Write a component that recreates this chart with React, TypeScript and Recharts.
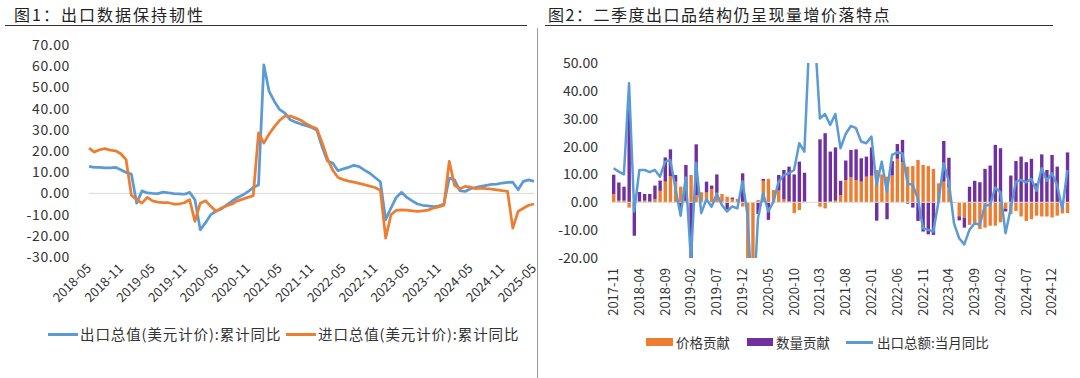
import React from "react";
import { LineChart, Line, XAxis, YAxis, ReferenceLine, ComposedChart, Bar } from "recharts";

const FONT = '"Noto Sans CJK SC", "Noto Sans", sans-serif';

// month labels like 2018-05
function monthLabels(year: number, month: number, count: number) {
  const out: string[] = [];
  for (let k = 0; k < count; k++) {
    const m = month - 1 + k;
    const y = year + Math.floor(m / 12);
    out.push(`${y}-${String((m % 12) + 1).padStart(2, "0")}`);
  }
  return out;
}

// ---- 图1 ----
const leftMonths = monthLabels(2018, 5, 85);
const exportCum = [
  12.7, 12.3, 12.3, 12.0, 12.0, 12.3, 11.2, 9.9, 9.1, -4.6, 1.2, 0.2, 0.0, -0.1, 0.6, 0.3, -0.1, -0.2, -0.4, 0.5,
  -3.0, -17.2, -13.8, -10.0, -8.3, -7.3, -5.4, -3.6, -2.0, -0.8, 0.8, 2.8, 4.0, 60.6, 48.1, 43.4, 39.5, 37.9, 34.7, 33.6,
  32.7, 31.9, 31.1, 29.9, 22.0, 15.3, 14.3, 10.7, 11.6, 12.3, 13.2, 12.6, 11.0, 9.5, 7.5, 5.5, -12.4, -6.9, -1.9, 0.5,
  -1.9, -3.5, -5.0, -5.6, -5.9, -6.2, -6.0, -5.0, 7.2, 6.4, 1.3, 0.9, 2.2, 2.8, 3.3, 3.8, 4.3, 4.4, 4.9, 5.2,
  5.3, 1.7, 5.7, 6.4, 5.7,
];
const importCum = [
  21.4, 19.5, 20.6, 21.1, 20.4, 20.1, 18.7, 15.9, -0.9, -3.0, -4.6, -1.9, -3.5, -4.1, -4.3, -4.4, -5.0, -5.0, -4.4, -3.0,
  -13.2, -4.6, -3.5, -6.1, -8.5, -6.9, -5.8, -5.0, -3.5, -2.7, -1.9, -1.1, 28.5, 23.7, 28.0, 31.5, 34.5, 36.5, 36.5, 35.5,
  34.5, 32.8, 31.6, 30.5, 24.0, 16.5, 11.0, 7.5, 6.5, 5.8, 5.3, 4.7, 4.1, 3.4, 2.8, 1.5, -21.1, -10.1, -8.0, -7.8,
  -7.9, -8.2, -8.5, -8.2, -7.9, -6.9, -6.4, -5.6, 15.1, 3.8, 2.2, 3.3, 3.0, 2.2, 2.5, 2.2, 2.0, 1.7, 1.3, 1.0,
  -16.4, -8.5, -7.0, -5.6, -5.0,
];
const leftTicks = [-30, -20, -10, 0, 10, 20, 30, 40, 50, 60, 70];

// ---- 图2 ----
const rightMonths = monthLabels(2017, 11, 89);
const priceContrib = [
  2.9, 0.6, 0.6, -1.9, 0, 0.3, 0.6, 0.2, 1.1, 4.1, 7.4, 9.4, 7.4, 5.6, 0.5, 9.8, 2.6, 3.6, 3.5, 4.8,
  3.4, 3.0, 2.0, 1.2, 1.2, -1.5, -25, -25, 0.8, 7.7, 8.4, 4.4, 4.2, 1.0, 0.3, -3.9, -2.8, 0.3, null, null,
  -1.6, -2.2, 0.3, 0.6, 2.6, 8.0, 9.0, 8.0, 7.4, 9.2, 9.5, 11.6, 10.0, 9.2, 9.6, 15.6, 14.4, 12.8, 13.0, 15.2,
  13.4, 13.0, 12.0, 6.8, 7.4, 5.3, -0.3, -5.0, -5.5, -8.1, -8.1, -9.6, -9.1, -8.4, -8.4, -7.2, -2.4, -4.3, -3.1, -5.1,
  -6.7, -6.1, -4.8, -5.1, -5.1, -5.5, -4.8, -4.0, -3.9,
];
const qtyContrib = [
  7.0, 6.5, 5.0, 35, -12, 3.4, 2.4, 2.8, 4.9, 3.7, 8.7, 9.6, 2.4, -2.0, 12.9, -28, 18.2, 0, 3.9, 1.2,
  6.6, 0, -2.5, 0.5, 0, 10.4, 0, 0, -4.2, 0.7, -6.3, 0, 5.6, 10.6, 12.5, 10.0, 14.6, 10.3, null, null,
  22.6, 24.8, 17.9, 19.1, 5.1, 7.0, 9.8, 11.0, 8.4, 7.2, 10.2, -6.6, 0, -6.1, 5.2, 5.3, 8.0, -0.5, -1.9, -6.7,
  -10.5, -11.5, -11.7, 0, 14.6, 10.7, 0, -1.5, -3.6, 5.6, 7.7, 7.2, 12.0, 13.2, 20.6, 19.4, -0.9, 9.6, 14.8, 16.4,
  14.4, 15.6, 6.8, 17.2, 11.6, 17.0, 12.8, 0, 17.9,
];
const exportYoY = [
  12.2, 11.0, 10.0, 42.7, -3.3, 11.6, 11.6, 10.8, 11.6, 9.2, 14.6, 15.2, 5.0, -4.8, 8.9, -20.7, 14.2, -3.9, 1.1, -1.6,
  3.0, -1.0, -3.3, -1.5, -2.2, 7.6, -5.0, -40.6, -5.7, 3.2, -3.3, 0.2, 7.4, 9.8, 10.4, 11.6, 21.2, 18.2, 60.6, 60.6,
  30.1, 31.7, 27.8, 31.7, 19.4, 24.5, 27.4, 26.6, 21.8, 21.2, 23.6, 6.2, 14.6, 3.8, 17.0, 17.9, 17.6, 6.8, 6.2, 1.4,
  -9.3, -9.9, -10.5, 0.2, 14.0, 7.4, -7.5, -12.9, -15.1, -9.9, -7.5, -8.1, -1.2, -1.0, 5.3, 3.6, -11.1, -2.2, 7.4, 8.0,
  7.2, 8.4, 4.1, 12.2, 7.7, 10.4, 6.2, -2.4, 11.6,
];
const rightTicks = [-20, -10, 0, 10, 20, 30, 40, 50];

const leftData = leftMonths.map((m, i) => ({ m, exp: exportCum[i], imp: importCum[i] }));
const rightData = rightMonths.map((m, i) => ({ m, price: priceContrib[i], qty: qtyContrib[i], yoy: exportYoY[i] }));

const BLUE = "#5B9BD5";
const ORANGE = "#ED7D31";
const PURPLE = "#7030A0";
const TXT = "#333";

const LeftTick = (props: any) => {
  const { x, y, payload } = props;
  return (
    <text x={x} y={y} transform={`rotate(-45 ${x} ${y})`} textAnchor="end" dy="0.35em" fontSize={13} fill={TXT} fontFamily={FONT}>
      {payload.value}
    </text>
  );
};

const RightTick = (props: any) => {
  const { x, y, payload } = props;
  return (
    <text x={x} y={y} transform={`rotate(-90 ${x} ${y})`} textAnchor="end" dy="0.35em" fontSize={13} fill={TXT} fontFamily={FONT}>
      {payload.value}
    </text>
  );
};

const abs = (s: React.CSSProperties): React.CSSProperties => ({ position: "absolute", ...s });

export default function App() {
  return (
    <div style={abs({ left: 0, top: 0, width: 1080, height: 378, background: "#fff", overflow: "hidden", fontFamily: FONT, color: TXT })}>
      {/* titles */}
      <div style={abs({ left: 14, top: 3, fontSize: 16, lineHeight: "22px", letterSpacing: 2, color: "#222" })}>图1：出口数据保持韧性</div>
      <div style={abs({ left: 548, top: 3, fontSize: 16, lineHeight: "22px", letterSpacing: 1.5, color: "#222" })}>
        图2：二季度出口品结构仍呈现量增价落特点
      </div>
      <div style={abs({ left: 5, top: 25, width: 522, borderTop: "1.5px solid #333" })} />
      <div style={abs({ left: 545, top: 25, width: 508, borderTop: "1.5px solid #333" })} />
      <div style={abs({ left: 537, top: 28, height: 350, borderLeft: "1px solid #999" })} />

      {/* 图1 */}
      <div style={abs({ left: 0, top: 0 })}>
        <LineChart width={540} height={378} data={leftData} margin={{ top: 45, right: 6, bottom: 61, left: 0 }}>
          <XAxis dataKey="m" scale="point" padding={{ left: 0, right: 0 }} interval={5} axisLine={false} tickLine={false} tickSize={0} tickMargin={9} height={60} tick={<LeftTick />} />
          <YAxis
            domain={[-30, 70]}
            ticks={leftTicks}
            width={89}
            axisLine={false}
            tickLine={false}
            tickSize={0}
            tickMargin={19}
            tickFormatter={(v: number) => v.toFixed(2)}
            tick={{ fontSize: 14, fill: TXT, fontFamily: FONT, letterSpacing: 0.6 }}
          />
          <ReferenceLine y={0} stroke="#d9d9d9" strokeWidth={1} />
          <Line dataKey="exp" stroke={BLUE} strokeWidth={2.75} dot={false} strokeLinejoin="round" isAnimationActive={false} />
          <Line dataKey="imp" stroke={ORANGE} strokeWidth={2.75} dot={false} strokeLinejoin="round" isAnimationActive={false} />
        </LineChart>
      </div>
      <div style={abs({ left: 48, top: 333, width: 30, height: 3, background: BLUE })} />
      <div style={abs({ left: 80, top: 324, fontSize: 14.5, lineHeight: "20px", letterSpacing: 0.9 })}>出口总值(美元计价):累计同比</div>
      <div style={abs({ left: 286, top: 333, width: 30, height: 3, background: ORANGE })} />
      <div style={abs({ left: 318, top: 324, fontSize: 14.5, lineHeight: "20px", letterSpacing: 0.9 })}>进口总值(美元计价):累计同比</div>

      {/* 图2 */}
      <div style={abs({ left: 540, top: 0 })}>
        <ComposedChart width={540} height={378} data={rightData} margin={{ top: 63, right: 10, bottom: 60, left: 0 }} stackOffset="sign" barSize={3.4}>
          <XAxis dataKey="m" scale="band" interval={4} axisLine={false} tickLine={false} tickSize={0} tickMargin={10} height={60} tick={<RightTick />} />
          <YAxis
            domain={[-20, 50]}
            ticks={rightTicks}
            allowDataOverflow
            width={71}
            axisLine={false}
            tickLine={false}
            tickSize={0}
            tickMargin={13}
            tickFormatter={(v: number) => v.toFixed(2)}
            tick={{ fontSize: 14, fill: TXT, fontFamily: FONT }}
          />
          <ReferenceLine y={0} stroke="#d9d9d9" strokeWidth={1} />
          <Bar dataKey="price" stackId="s" fill={ORANGE} isAnimationActive={false} />
          <Bar dataKey="qty" stackId="s" fill={PURPLE} isAnimationActive={false} />
          <Line dataKey="yoy" stroke={BLUE} strokeWidth={2.5} dot={false} strokeLinejoin="round" isAnimationActive={false} />
        </ComposedChart>
      </div>
      <div style={abs({ left: 646, top: 338, width: 27, height: 8, background: ORANGE })} />
      <div style={abs({ left: 676, top: 332, fontSize: 13.5, lineHeight: "20px" })}>价格贡献</div>
      <div style={abs({ left: 747, top: 338, width: 26, height: 8, background: PURPLE })} />
      <div style={abs({ left: 776, top: 332, fontSize: 13.5, lineHeight: "20px" })}>数量贡献</div>
      <div style={abs({ left: 846, top: 341, width: 27, height: 3, background: BLUE })} />
      <div style={abs({ left: 877, top: 332, fontSize: 13.5, lineHeight: "20px" })}>出口总额:当月同比</div>
    </div>
  );
}
